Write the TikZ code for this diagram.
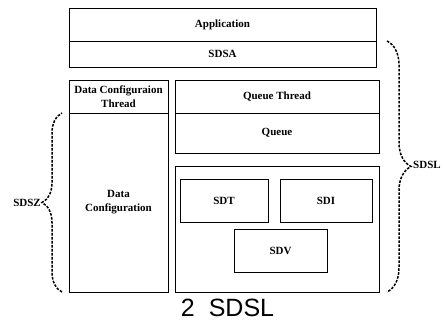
\documentclass[tikz,border=0pt]{standalone}
\usepackage{fontspec}
\setmainfont{Liberation Serif}
\newfontfamily\capfont{Liberation Sans}
\usetikzlibrary{decorations.pathreplacing}
\begin{document}
\begin{tikzpicture}[x=1pt,y=-1pt,
    layer/.style={draw,line width=0.9pt,inner sep=0pt,align=center,
      font=\bfseries\fontsize{11}{14}\selectfont},
    dbrace/.style={decorate,decoration={brace,amplitude=#1},
      dash pattern=on 2.6pt off 1.4pt,line width=1.5pt},
    side/.style={inner sep=1pt,font=\bfseries\fontsize{11}{14}\selectfont}]
  \useasboundingbox (0,0) rectangle (443,322);
  \draw
    (222.5,24.5) node[layer,minimum width=307,minimum height=33] (app){Application}
    (222.5,54) node[layer,minimum width=307,minimum height=26] (sdsa){SDSA}
    (118.5,96.5) node[layer,minimum width=99,minimum height=33] (dcthread){Data Configuraion\\Thread}
    (118.5,202.5) node[layer,minimum width=99,minimum height=179] (dconf){Data\\Configuration}
    (277,96.5) node[layer,minimum width=204,minimum height=33] (qthread){Queue Thread}
    (277,133) node[layer,minimum width=204,minimum height=40] (queue){Queue}
    (277,229) node[layer,minimum width=204,minimum height=126] (drv){}
    (224,200.5) node[layer,minimum width=88,minimum height=43] (sdt){SDT}
    (326,200.5) node[layer,minimum width=92,minimum height=43] (sdi){SDI}
    (280.5,250.5) node[layer,minimum width=93,minimum height=43] (sdv){SDV};
  \coordinate (sdsltop) at (387,41);
  \coordinate (sdslbot) at (387,292);
  \coordinate (sdsztop) at (62,113);
  \coordinate (sdszbot) at (62,292);
  \begin{scope}
    \draw[dbrace=24pt] (sdsltop) to (sdslbot);
    \draw[dbrace=20pt] (sdszbot) to (sdsztop);
  \end{scope}
  \node[side,anchor=west] (sdsl) at (412,165) {SDSL};
  \node[side,anchor=east] (sdsz) at (42,202.5) {SDSZ};
  \node[font=\capfont\fontsize{25}{25}\selectfont] (caption) at (227.5,308) {2\hspace{14pt}SDSL};
\end{tikzpicture}
\end{document}
